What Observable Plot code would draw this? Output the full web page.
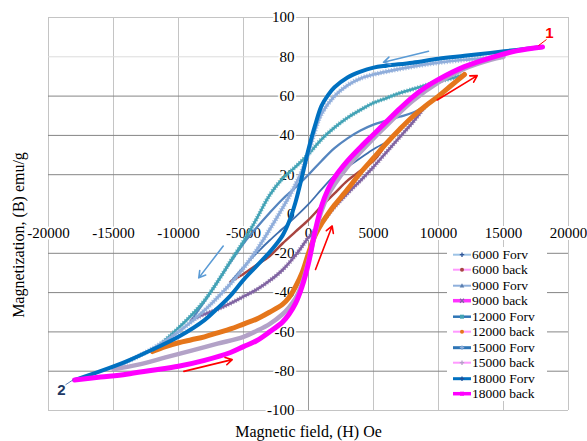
<!DOCTYPE html>
<html>
<head>
<meta charset="utf-8">
<script src="https://cdn.jsdelivr.net/npm/d3@7"></script>
<script src="https://cdn.jsdelivr.net/npm/@observablehq/plot@0.6"></script>
<style>
  body { margin: 0; background: white; }
  #wrap { position: relative; width: 587px; height: 441px; font-family: "Liberation Serif", "Times New Roman", serif; }
  #legend { position: absolute; left: 447px; top: 247px; width: 100px; background: white; }
  .row { height: 15.45px; position: relative; font-size: 13.5px; line-height: 15.45px; white-space: nowrap; }
  .row svg { position: absolute; left: 6px; top: 0; }
  .row span { position: absolute; left: 25px; top: 0; }
</style>
</head>
<body>
<div id="wrap"></div>
<script>
// Tick values
const xTicks = [-20000, -15000, -10000, -5000, 0, 5000, 10000, 15000, 20000];
const yTicks = [-100, -80, -60, -40, -20, 0, 20, 40, 60, 80, 100];

// Series: [H (Oe), M (emu/g)] in traversal order
const forv6000 = [[6000,36.5],[5000,33],[4000,28.5],[3000,24],[2000,19.5],[1000,12.5],[0,5],[-1000,-1.5],[-2000,-7.5],[-3000,-13.5],[-4000,-20],[-5000,-27],[-6000,-34.5]];
const back6000 = [[-6000,-34.5],[-5000,-30.5],[-4000,-26],[-3000,-21.5],[-2000,-15],[-1000,-9],[0,-3],[1000,4],[2000,10.5],[3000,17],[4000,22],[5000,27],[5500,31],[6000,36.5]];
const forv9000 = [[9000,55],[8000,51.5],[7000,49.5],[6000,47.5],[5000,45.5],[4000,42.5],[3000,38.5],[2000,33.5],[1000,27],[0,20],[-1000,13.5],[-2000,7.5],[-3000,0.5],[-4000,-7],[-5000,-15],[-6000,-24.5],[-7000,-34.5],[-8000,-44.5],[-9000,-54]];
const back9000 = [[-9000,-54],[-8000,-51],[-7000,-48.5],[-6000,-45.5],[-5000,-42],[-4000,-38.5],[-3000,-34],[-2000,-28.5],[-1000,-21],[0,-12],[1000,-4.5],[2000,3.5],[3000,10.5],[4000,17],[5000,24],[6000,31.5],[7000,39],[8000,46.5],[9000,55]];
const forv12000 = [[12000,71],[11000,69],[10000,67.5],[9000,65.5],[8000,63.5],[7000,61.5],[6000,59],[5000,56.5],[4000,53],[3000,49],[2000,44],[1000,38],[0,30.5],[-1000,24],[-2000,18],[-3000,9.5],[-4000,-2.5],[-5000,-14],[-6000,-24],[-7000,-34.5],[-8000,-44],[-9000,-51.5],[-10000,-58],[-11000,-64],[-12000,-70]];
const back12000 = [[-12000,-70],[-11000,-67.5],[-10000,-65.5],[-9000,-64],[-8000,-62.5],[-7000,-60.5],[-6000,-58.5],[-5000,-56],[-4000,-53.5],[-3000,-50],[-2000,-46],[-1500,-42.5],[-1000,-37],[-500,-30],[0,-20],[500,-11],[1000,-5],[1500,0],[2000,4.5],[3000,12.5],[4000,21],[5000,28.5],[6000,36],[7000,43],[8000,49.5],[9000,55],[10000,60],[11000,65.5],[12000,71]];
const forv15000 = [[15000,80],[14000,79.5],[12000,78.5],[10000,77],[8000,75],[6000,72.5],[5000,71],[4000,69],[3000,65.5],[2000,60],[1000,51],[500,42.5],[0,31],[-500,22],[-1000,15],[-2000,3],[-3000,-8],[-4000,-18.5],[-5000,-27.5],[-6000,-35.5],[-7000,-42.5],[-8000,-49],[-10000,-60],[-12000,-68.5],[-14000,-75.5],[-15000,-79]];
const back15000 = [[-15000,-79],[-13000,-76.5],[-11000,-73],[-9000,-69.5],[-7000,-66],[-5000,-62.5],[-4000,-59.5],[-3000,-56],[-2000,-51],[-1500,-47.5],[-1000,-43],[-500,-35.5],[0,-24],[500,-10],[1000,1.5],[1500,9.5],[2000,15],[3000,24],[4000,31.5],[5000,38.5],[6000,45],[8000,57.5],[10000,67],[12000,74],[14000,78.5],[15000,80]];
const forv18000 = [[18000,85],[16000,83.5],[14000,82],[12000,80.5],[10000,79],[8000,77],[6000,75.5],[5000,74.5],[4000,72.5],[3000,69.5],[2000,64.5],[1500,60.5],[1000,55],[500,45],[0,33],[-500,19],[-1000,6],[-1500,-4],[-2000,-11],[-2500,-15.5],[-3000,-19.5],[-4000,-26.5],[-5000,-33.5],[-6000,-41.5],[-7000,-48],[-8000,-54],[-10000,-62.5],[-12000,-69],[-14000,-75],[-16000,-80],[-18000,-84.5]];
const back18000 = [[-18000,-84.5],[-16000,-83],[-14000,-81.5],[-12000,-79.5],[-10000,-77.5],[-8000,-74.5],[-6000,-70.5],[-5000,-67.5],[-4000,-64.5],[-3000,-60],[-2000,-55],[-1500,-51],[-1000,-45.5],[-500,-37],[0,-25],[500,-9],[1000,4],[1500,12.5],[2000,18.5],[3000,27],[4000,34],[5000,40.5],[6000,47],[7000,53.5],[8000,59.5],[9000,64.5],[10000,68.5],[12000,75],[14000,79.5],[16000,83],[18000,85]];

const seriesNames = ["6000 Forv","6000 back","9000 Forv","9000 back","12000 Forv","12000 back","15000 Forv","15000 back","18000 Forv","18000 back"];

// Direction arrows (data coordinates) and point labels
const blueArrows = [[9230,82.8,5770,77.2],[-6560,-16.3,-8440,-32.5]];
const redArrows = [[9900,58,12980,70.4],[540,-28.2,1820,-6.1],[-9590,-80.1,-5870,-74.1]];
const pointLabels = [["1",18540,91.8],["2",-19000,-89.8]];
const leaders = [[17690,85.7,18310,88.8],[-18690,-86.9,-18080,-84.3]];

const X = d => d[0], Y = d => d[1];
const ln = (data, stroke, w, extra = {}) => Plot.line(data, {x: X, y: Y, stroke, strokeWidth: w, curve: "catmull-rom", strokeLinejoin: "round", strokeLinecap: "round", ...extra});
const fuzzy = (data, stroke, w) => [
  ln(data, stroke, w * 0.55),
  ln(data, stroke, w, {strokeDasharray: "1.2,1.6", strokeOpacity: 0.75, strokeLinecap: "butt"})
];

const chart = Plot.plot({
  width: 587,
  height: 441,
  marginLeft: 48,
  marginRight: 19,
  marginTop: 17,
  marginBottom: 31,
  x: {domain: [-20000, 20000], axis: null},
  y: {domain: [-100, 100], axis: null},
  style: {fontFamily: "'Liberation Serif', 'Times New Roman', serif", background: "white"},
  marks: [
    Plot.ruleX(xTicks.filter(d => d !== 0), {stroke: "#c4c4c4"}),
    Plot.ruleY(yTicks.filter(d => Math.abs(d) === 100), {stroke: "#c4c4c4"}),
    Plot.ruleY(yTicks.filter(d => d === 80), {stroke: "#dcdcdc"}),
    Plot.ruleY(yTicks.filter(d => d !== 0 && d !== 80 && Math.abs(d) !== 100), {stroke: "#858585"}),
    Plot.ruleX([0], {stroke: "#9a9a9a"}),
    Plot.text(yTicks, {x: 0, y: d => d, text: d => String(d), textAnchor: "end", dx: -14, fontSize: 15, fill: "black", stroke: "white", strokeWidth: 4, paintOrder: "stroke"}),
    Plot.text(xTicks, {x: d => d, y: 0, text: d => String(d), dy: 19, fontSize: 15, fill: "black", stroke: "white", strokeWidth: 4, paintOrder: "stroke"}),
    Plot.text(["Magnetic field, (H) Oe"], {frameAnchor: "bottom", lineAnchor: "middle", textAnchor: "middle", dy: 21, fontSize: 16, fill: "black"}),
    Plot.text(["Magnetization, (B) emu/g"], {frameAnchor: "left", textAnchor: "middle", lineAnchor: "middle", dx: -30, dy: 21, rotate: -90, fontSize: 16, fill: "black"}),
    ln(forv6000, "#3f6fae", 1.8),
    ln(back6000, "#a84540", 2.5),
    ln(forv9000, "#5585bf", 2.3),
    ...fuzzy(back9000, "#8064a2", 4.5),
    ...fuzzy(forv12000, "#43a3b6", 4.5),
    ln(back12000, "#e5761b", 5),
    ...fuzzy(forv15000, "#90aedb", 5),
    ln(back15000, "#b3a2c7", 4.5),
    ln(forv18000, "#0070c0", 4),
    ln(back18000, "#ff00ff", 5),
    Plot.arrow(blueArrows, {x1: d => d[0], y1: d => d[1], x2: d => d[2], y2: d => d[3], stroke: "#5b9bd5", strokeWidth: 1.6, headLength: 7}),
    Plot.arrow(redArrows, {x1: d => d[0], y1: d => d[1], x2: d => d[2], y2: d => d[3], stroke: "#ff0000", strokeWidth: 1.6, headLength: 7}),
    Plot.link(leaders, {x1: d => d[0], y1: d => d[1], x2: d => d[2], y2: d => d[3], stroke: (d, i) => i === 0 ? "#ff0000" : "#5b7fb5", strokeWidth: 1}),
    Plot.text(pointLabels, {x: d => d[1], y: d => d[2], text: d => d[0], fill: (d, i) => i === 0 ? "#ff0000" : "#203864", fontSize: 15, fontWeight: "bold", fontFamily: "'Liberation Sans', Arial, sans-serif"})
  ]
});

const wrap = document.getElementById("wrap");
wrap.appendChild(chart);

// Legend (overlay inside plot area, as in the reference)
const legendStyles = [
  {line: "#9dc3e6", w: 2, mk: "#2f5597", shape: "plus"},
  {line: "#ff99ff", w: 2, mk: "#a84540", shape: "dot"},
  {line: "#8fb0dc", w: 2, mk: "#5b7fb0", shape: "tri"},
  {line: "#ff33ff", w: 3.5, mk: "#8064a2", shape: "x"},
  {line: "#2e75b6", w: 2.5, mk: "#43a3b6", shape: "sq"},
  {line: "#ff99ff", w: 2, mk: "#e5761b", shape: "dot"},
  {line: "#2e75b6", w: 3, mk: "#90aedb", shape: "plus"},
  {line: "#ff99ff", w: 2, mk: "#b3a2c7", shape: "plus"},
  {line: "#0070c0", w: 3, mk: "#1f4e99", shape: "plus"},
  {line: "#ff00ff", w: 3.5, mk: "#ff00ff", shape: "sq"}
];
const legend = document.createElement("div");
legend.id = "legend";
seriesNames.forEach((name, i) => {
  const s = legendStyles[i];
  const row = document.createElement("div");
  row.className = "row";
  let marker = "";
  if (s.shape === "dot") marker = `<circle cx="9" cy="7.7" r="2" fill="${s.mk}"/>`;
  else if (s.shape === "sq") marker = `<rect x="7" y="5.7" width="4" height="4" fill="${s.mk}"/>`;
  else if (s.shape === "tri") marker = `<path d="M9,5.2 L11.3,9.6 L6.7,9.6 Z" fill="${s.mk}"/>`;
  else if (s.shape === "x") marker = `<path d="M7,5.7 L11,9.7 M11,5.7 L7,9.7" stroke="${s.mk}" stroke-width="1.3"/>`;
  else marker = `<path d="M6.8,7.7 L11.2,7.7 M9,5.5 L9,9.9" stroke="${s.mk}" stroke-width="1.3"/>`;
  row.innerHTML = `<svg width="19" height="16"><line x1="0" y1="7.7" x2="18" y2="7.7" stroke="${s.line}" stroke-width="${s.w}"/>${marker}</svg><span>${name}</span>`;
  legend.appendChild(row);
});
wrap.appendChild(legend);
</script>
</body>
</html>
